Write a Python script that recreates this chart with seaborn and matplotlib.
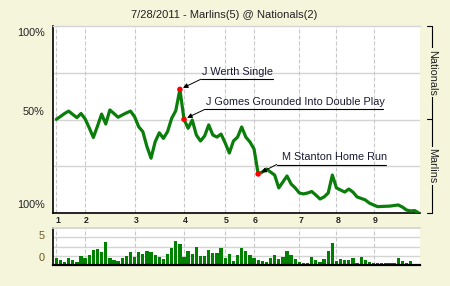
import matplotlib
matplotlib.use('Agg')
import matplotlib.pyplot as plt
from matplotlib.lines import Line2D
from matplotlib.transforms import blended_transform_factory
import seaborn as sns
import pandas as pd

title = "7/28/2011 - Marlins(5) @ Nationals(2)"
home_team = "Nationals"
away_team = "Marlins"

# Nationals win probability (%) after each play
win_prob = [50.1, 51.6, 53.2, 54.5, 52.7, 51.0, 53.2, 50.3, 45.5, 40.4,
            46.5, 52.9, 47.6, 55.1, 53.2, 51.2, 52.4, 53.5, 54.5, 51.5,
            46.1, 43.5, 35.5, 29.3, 38.1, 42.9, 39.9, 43.5, 50.6, 54.7,
            66.1, 50.1, 45.3, 49.7, 41.7, 38.5, 41.2, 47.1, 41.7, 40.6,
            42.2, 37.4, 32.1, 38.5, 40.6, 46.0, 40.6, 38.0, 34.2, 20.9,
            21.9, 23.5, 21.9, 20.3, 13.4, 16.6, 19.8, 15.5, 13.4, 10.7,
            10.2, 10.7, 11.5, 9.6, 7.5, 8.6, 10.7, 20.3, 13.4, 12.3,
            11.2, 12.8, 11.2, 8.6, 7.8, 7.0, 5.3, 4.3, 3.4, 3.5,
            3.6, 3.7, 4.0, 4.3, 3.2, 1.6, 1.1, 1.3, 0.0]

# leverage of each play (axis top = 37)
leverage = [7, 5, 3, 7, 5, 3, 9, 7, 10, 15, 16, 13, 23, 7, 5, 4, 7, 9, 13, 8,
            13, 11, 14, 13, 10, 8, 6, 11, 17, 24,
            21, 8, 14, 11, 18, 9, 9, 15, 12, 12, 17, 7, 11, 4, 10, 17, 14, 10,
            7, 5, 4, 3, 7, 10, 6, 8, 14, 10, 6, 3,
            2, 2, 8, 5, 3, 6, 14, 22, 4, 6, 5, 5, 7, 2, 8, 5, 3, 2, 2, 2, 2,
            2, 2, 7, 4, 2, 4]

inning_labels = ["1", "2", "3", "4", "5", "6", "7", "8", "9"]
inning_start = [0, 7, 19, 31, 41, 48, 59, 68, 77]

event_labels = ["J Werth Single", "J Gomes Grounded Into Double Play",
                "M Stanton Home Run"]
event_play = [30, 31, 49]

wp_tick_labels = ["100%", "50%", "100%"]
lev_tick_labels = ["5", "0"]

line_df = pd.DataFrame({"play": list(range(len(win_prob))), "wp": win_prob})
bar_df = pd.DataFrame({"play": list(range(len(leverage))), "lev": leverage})
ev_df = pd.DataFrame({"play": event_play,
                      "wp": [win_prob[i] for i in event_play]})

sns.set_theme(style="white")
plt.rcParams['font.family'] = ['Liberation Sans', 'DejaVu Sans']

BG = '#f5f5dc'
GRID = '#d4d4d4'
DASH = '#c8c8c8'
GREEN = '#0a7d0a'
TXT = '#222222'

W, H = 450, 286
fig = plt.figure(figsize=(4.5, 2.86), dpi=100, facecolor=BG)


def fx(x):
    return x / W


def fy(y):
    return 1 - y / H


XL = (-0.8, 88.28)

ax = fig.add_axes([fx(53), fy(213), (420 - 53) / W, 187 / H])
axb = fig.add_axes([fx(53), fy(265), (420 - 53) / W, 37 / H])

# ---------------- main win-probability chart
ax.set_facecolor('white')
for v in (25, 50, 75):
    ax.axhline(v, color=GRID, lw=1.0, zorder=0)
for k in inning_start:
    ax.axvline(k, color=DASH, lw=0.8, ls=(0, (3.6, 1.8)), zorder=0)

sns.lineplot(data=line_df, x="play", y="wp", ax=ax, color=GREEN,
             linewidth=2.3, zorder=3)
sns.scatterplot(data=ev_df, x="play", y="wp", ax=ax, color='#ff0000',
                s=16, edgecolor='none', zorder=5)

ax.set_xlim(*XL)
ax.set_ylim(0, 100)
ax.set_xticks([])
ax.set_yticks([])
ax.set_xlabel("")
ax.set_ylabel("")
for s in ("left", "bottom"):
    ax.spines[s].set_color('black')
    ax.spines[s].set_linewidth(1.2)
ax.spines["top"].set_color(GRID)
ax.spines["top"].set_linewidth(1.0)
ax.spines["right"].set_visible(False)

# annotations (pixel layout of underline/text)
ann_layout = [  # underline x0, x1, y ; text x, y
    (200.7, 273.0, 79.3, 202.0, 72.0),
    (205.0, 382.7, 109.3, 206.0, 101.7),
    (276.7, 386.0, 164.5, 281.7, 156.7),
]
for lab, k, (ux0, ux1, uy, tx, ty) in zip(event_labels, event_play, ann_layout):
    ax.annotate("", xy=(k, win_prob[k]), xycoords='data',
                xytext=(fx(ux0), fy(uy)), textcoords='figure fraction',
                arrowprops=dict(arrowstyle='-|>', color='black', lw=0.7,
                                mutation_scale=7, shrinkA=0, shrinkB=2.5),
                zorder=6)
    fig.add_artist(Line2D([fx(ux0), fx(ux1)], [fy(uy), fy(uy)],
                          transform=fig.transFigure, color='black', lw=0.8))
    fig.text(fx(tx), fy(ty), lab, ha='left', va='center', fontsize=7.8,
             color='#1a1a33')

# y labels
for lab, y in zip(wp_tick_labels, (33, 112, 205)):
    fig.text(fx(44.5), fy(y), lab, ha='right', va='center', fontsize=7.8,
             color=TXT)

# inning labels
tr = blended_transform_factory(ax.transData, ax.transAxes)
for lab, k in zip(inning_labels, inning_start):
    ax.text(k + 0.35, -0.038, lab, transform=tr, ha='center', va='center',
            fontsize=6.3, fontweight='bold', color=TXT)

# right-hand bracket
bx, bx0 = 432.3, 426.7
for y in (26, 119.3, 212.7):
    fig.add_artist(Line2D([fx(bx0), fx(bx)], [fy(y), fy(y)],
                          transform=fig.transFigure, color='black', lw=0.8))
fig.add_artist(Line2D([fx(bx), fx(bx)], [fy(26), fy(212.7)],
                      transform=fig.transFigure, color='black', lw=0.8))
for lab, y in ((home_team, 72.6), (away_team, 166.0)):
    fig.text(fx(bx), fy(y), lab, rotation=270, ha='center', va='center',
             fontsize=7.8, color=TXT,
             bbox=dict(facecolor=BG, edgecolor='none', pad=1.0))

# ---------------- leverage bar chart
axb.set_facecolor('white')
for v in (37 / 4, 37 / 2, 37 * 3 / 4):
    axb.axhline(v, color=GRID, lw=1.0, zorder=0)
for k in inning_start:
    axb.axvline(k, color=DASH, lw=0.8, ls=(0, (3.6, 1.8)), zorder=0)
sns.barplot(data=bar_df, x="play", y="lev", ax=axb, color='#008000',
            saturation=1, width=0.8, edgecolor='none', linewidth=0,
            zorder=2)
axb.set_xlim(*XL)
axb.set_ylim(0, 37)
axb.set_xticks([])
axb.set_yticks([])
axb.set_xlabel("")
axb.set_ylabel("")
axb.spines["left"].set_color('black')
axb.spines["left"].set_linewidth(1.2)
axb.spines["bottom"].set_color('black')
axb.spines["bottom"].set_linewidth(1.6)
axb.spines["top"].set_color(GRID)
axb.spines["right"].set_visible(False)

for lab, y in zip(lev_tick_labels, (236, 258)):
    fig.text(fx(44.5), fy(y), lab, ha='right', va='center', fontsize=7.8,
             color='#6b5a1e')

# title
fig.text(fx(224.5), fy(15.5), title, ha='center', va='center', fontsize=8,
         color=TXT)

fig.savefig("out.png", dpi=100, facecolor=BG)
